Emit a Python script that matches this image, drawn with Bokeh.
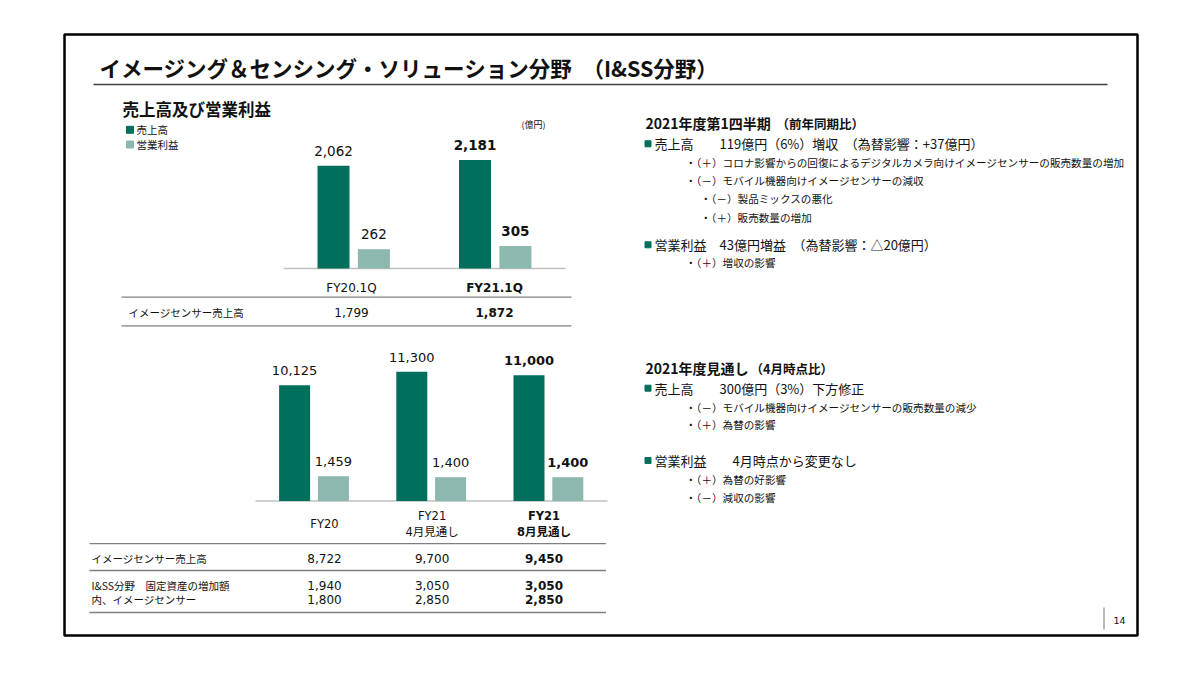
from bokeh.plotting import figure
from bokeh.models import Range1d, ColumnDataSource
from bokeh.core.properties import value, field
from bokeh.transform import dodge
from bokeh.embed import file_html
from bokeh.resources import INLINE

# ---------------- data ----------------
title_text = "イメージング＆センシング・ソリューション分野　（I&SS分野）"
section_title = "売上高及び営業利益"
series_names = ["売上高", "営業利益"]
unit_label = "(億円)"

q_categories = ["FY20.1Q", "FY21.1Q"]
q_sales = [2062, 2181]
q_profit = [262, 305]
q_table_label = "イメージセンサー売上高"
q_sensor = [1799, 1872]

y_categories = ["FY20", "FY21\n4月見通し", "FY21\n8月見通し"]
y_sales = [10125, 11300, 11000]
y_profit = [1459, 1400, 1400]
y_table_labels = ["イメージセンサー売上高", "I&SS分野　固定資産の増加額", "内、イメージセンサー"]
y_sensor = [8722, 9700, 9450]
y_capex = [1940, 3050, 3050]
y_capex_sensor = [1800, 2850, 2850]

q_heading = ["2021年度第1四半期", "（前年同期比）"]
q_notes_level = [1, 2, 2, 3, 3, 1, 2]
q_notes = [
    "売上高　　119億円（6%）増収　（為替影響：+37億円）",
    "・（＋）コロナ影響からの回復によるデジタルカメラ向けイメージセンサーの販売数量の増加",
    "・（－）モバイル機器向けイメージセンサーの減収",
    "・（－）製品ミックスの悪化",
    "・（＋）販売数量の増加",
    "営業利益　43億円増益　（為替影響：△20億円）",
    "・（＋）増収の影響",
]
f_heading = ["2021年度見通し", "（4月時点比）"]
f_notes_level = [1, 2, 2, 1, 2, 2]
f_notes = [
    "売上高　　300億円（3%）下方修正",
    "・（－）モバイル機器向けイメージセンサーの販売数量の減少",
    "・（＋）為替の影響",
    "営業利益　　4月時点から変更なし",
    "・（＋）為替の好影響",
    "・（－）減収の影響",
]
page_number = "14"

# ---------------- style / layout ----------------
DARK = "#00705C"
LIGHT = "#8CB8B0"
INK = "#111111"
JP = value("Noto Sans CJK JP")
NUM = value("DejaVu Sans")
MIX = value("DejaVu Sans, Noto Sans CJK JP")

X0, X1, Y0, Y1 = 0, 1184, 0, 659


def x_map(c0, d):
    return Range1d(start=(X0 - c0) / d, end=(X1 - c0) / d)


def y_map(base, k):
    return Range1d(start=(base - Y1) / k, end=(base - Y0) / k)


p = figure(width=X1 - X0, height=Y1 - Y0, x_range=Range1d(X0, X1), y_range=Range1d(Y1, Y0),
           x_axis_type=None, y_axis_type=None, toolbar_location=None, output_backend="svg",
           min_border=0, outline_line_color=None, background_fill_color="white",
           border_fill_color="white")

# chart geometry
Q_C0, Q_D, Q_OFF, Q_W, Q_BASE, Q_KS, Q_KP = 353.2, 141.5, 20.2, 32, 268, 0.0498, 0.0737
A_C0, A_D, A_OFF, A_W, A_BASE, A_KS, A_KP = 313.5, 117.2, 19.4, 31, 500.5, 0.01143, 0.017
GAP = 14.7

p.extra_x_ranges = {"qx": x_map(Q_C0, Q_D), "ax": x_map(A_C0, A_D)}
p.extra_y_ranges = {"qs": y_map(Q_BASE, Q_KS), "qp": y_map(Q_BASE, Q_KP),
                    "as": y_map(A_BASE, A_KS), "ap": y_map(A_BASE, A_KP)}

# frame & title
p.quad(left=64, right=1137, top=34, bottom=635, fill_color=None, line_color="black", line_width=2.5)
p.segment(x0=93, y0=84, x1=1107, y1=84, line_color="#404040", line_width=1.5)
p.text(x=99, y=67, text=[title_text], text_font=JP, text_font_style="bold",
       text_font_size="21.5px", text_baseline="middle", text_color=INK)
p.text(x=122, y=108, text=[section_title], text_font=JP, text_font_style="bold",
       text_font_size="16.5px", text_baseline="middle", text_color=INK)

# legend
p.scatter(x=[129.5, 129.5], y=[129.3, 144], marker="square", size=7, color=[DARK, LIGHT])
p.text(x=[136, 136], y=[129.3, 144], text=series_names, text_font=JP, text_font_size="10.5px",
       text_baseline="middle", text_color=INK)
p.text(x=521, y=124, text=[unit_label], text_font=JP, text_font_size="9px",
       text_baseline="middle", text_color=INK)


def styles(n):
    return ["normal"] * (n - 1) + ["bold"]


# ---- quarterly chart ----
nq = len(q_categories)
qsrc = ColumnDataSource(dict(
    i=list(range(nq)), sales=q_sales, profit=q_profit,
    sales_lbl=[f"{v:,}" for v in q_sales], profit_lbl=[f"{v:,}" for v in q_profit],
    style=styles(nq)))
p.segment(x0=283, y0=Q_BASE, x1=565, y1=Q_BASE, line_color="#BFBFBF", line_width=1.5)
p.vbar(x=dodge("i", -Q_OFF / Q_D), top="sales", bottom=0, width=Q_W / Q_D, source=qsrc,
       x_range_name="qx", y_range_name="qs", fill_color=DARK, line_color=None)
p.vbar(x=dodge("i", Q_OFF / Q_D), top="profit", bottom=0, width=Q_W / Q_D, source=qsrc,
       x_range_name="qx", y_range_name="qp", fill_color=LIGHT, line_color=None)
p.text(x=dodge("i", -Q_OFF / Q_D), y=dodge("sales", GAP / Q_KS), text="sales_lbl", source=qsrc,
       x_range_name="qx", y_range_name="qs", text_font=NUM, text_font_size="13.5px",
       text_font_style=field("style"), text_align="center", text_baseline="middle", text_color=INK)
p.text(x=dodge("i", Q_OFF / Q_D), y=dodge("profit", GAP / Q_KP), text="profit_lbl", source=qsrc,
       x_range_name="qx", y_range_name="qp", text_font=NUM, text_font_size="13.5px",
       text_font_style=field("style"), text_align="center", text_baseline="middle", text_color=INK)
qcat_src = ColumnDataSource(dict(x=[351, 494], cat=q_categories, sensor=[f"{v:,}" for v in q_sensor],
                                 style=styles(nq)))
p.text(x="x", y=287, text="cat", source=qcat_src, text_font=NUM, text_font_size="12px",
       text_font_style=field("style"), text_align="center", text_baseline="middle", text_color=INK)
p.text(x="x", y=312, text="sensor", source=qcat_src, text_font=NUM, text_font_size="12px",
       text_font_style=field("style"), text_align="center", text_baseline="middle", text_color=INK)
p.segment(x0=[121, 121], y0=[296.7, 325.3], x1=[571, 571], y1=[296.7, 325.3],
          line_color="#7F7F7F", line_width=1.3)
p.text(x=128, y=312, text=[q_table_label], text_font=JP, text_font_size="10.5px",
       text_baseline="middle", text_color=INK)

# ---- annual chart ----
na = len(y_categories)
asrc = ColumnDataSource(dict(
    i=list(range(na)), sales=y_sales, profit=y_profit,
    sales_lbl=[f"{v:,}" for v in y_sales], profit_lbl=[f"{v:,}" for v in y_profit],
    style=styles(na)))
p.segment(x0=255, y0=A_BASE, x1=607, y1=A_BASE, line_color="#BFBFBF", line_width=1.5)
p.vbar(x=dodge("i", -A_OFF / A_D), top="sales", bottom=0, width=A_W / A_D, source=asrc,
       x_range_name="ax", y_range_name="as", fill_color=DARK, line_color=None)
p.vbar(x=dodge("i", A_OFF / A_D), top="profit", bottom=0, width=A_W / A_D, source=asrc,
       x_range_name="ax", y_range_name="ap", fill_color=LIGHT, line_color=None)
p.text(x=dodge("i", -A_OFF / A_D), y=dodge("sales", GAP / A_KS), text="sales_lbl", source=asrc,
       x_range_name="ax", y_range_name="as", text_font=NUM, text_font_size="13px",
       text_font_style=field("style"), text_align="center", text_baseline="middle", text_color=INK)
p.text(x=dodge("i", A_OFF / A_D), y=dodge("profit", GAP / A_KP), text="profit_lbl", source=asrc,
       x_range_name="ax", y_range_name="ap", text_font=NUM, text_font_size="13px",
       text_font_style=field("style"), text_align="center", text_baseline="middle", text_color=INK)

COLS = [324, 431.6, 543.5]
acat_src = ColumnDataSource(dict(
    x=COLS, cat=y_categories, sensor=[f"{v:,}" for v in y_sensor],
    capex=[f"{v:,}" for v in y_capex], capex_s=[f"{v:,}" for v in y_capex_sensor], style=styles(na)))
p.text(x="x", y=523.5, text="cat", source=acat_src, text_font=MIX, text_font_size="11.5px",
       text_font_style=field("style"), text_align="center", text_baseline="middle", text_color=INK)
for col, yy in (("sensor", 557.6), ("capex", 585.2), ("capex_s", 599)):
    p.text(x="x", y=yy, text=col, source=acat_src, text_font=NUM, text_font_size="12px",
           text_font_style=field("style"), text_align="center", text_baseline="middle", text_color=INK)
p.segment(x0=[89, 89, 89], y0=[543.2, 570, 612], x1=[605.5, 605.5, 605.5], y1=[543.2, 570, 612],
          line_color="#7F7F7F", line_width=1.3)
p.text(x=[91, 91, 91], y=[557.6, 585.2, 599], text=y_table_labels, text_font=JP,
       text_font_size="10.5px", text_baseline="middle", text_color=INK)

# ---- commentary ----
LEVEL_X = {1: 654, 2: 685, 3: 700}
LEVEL_SIZE = {1: "13px", 2: "10.6px", 3: "10.6px"}


def notes(heading, heading_y, heading2_x, levels, lines, ys):
    p.text(x=645, y=heading_y, text=[heading[0]], text_font=JP, text_font_style="bold",
           text_font_size="14px", text_baseline="middle", text_color=INK)
    p.text(x=heading2_x, y=heading_y + 0.5, text=[heading[1]], text_font=JP, text_font_style="bold",
           text_font_size="12.5px", text_baseline="middle", text_color=INK)
    for lv in (1, 2, 3):
        idx = [k for k, l in enumerate(levels) if l == lv]
        if not idx:
            continue
        p.text(x=LEVEL_X[lv], y=[ys[k] for k in idx], text=[lines[k] for k in idx], text_font=JP,
               text_font_size=LEVEL_SIZE[lv], text_baseline="middle", text_color=INK)
        if lv == 1:
            p.scatter(x=647.5, y=[ys[k] for k in idx], marker="square", size=6, color=DARK)


notes(q_heading, 122.7, 776, q_notes_level, q_notes, [143.3, 162.3, 180, 198.3, 216.7, 244.3, 261.7])
notes(f_heading, 367.3, 750, f_notes_level, f_notes, [387.7, 406.7, 424, 460, 479, 496.7])

# page number
p.segment(x0=1103.5, y0=607, x1=1103.5, y1=629, line_color="#A0A0A0", line_width=1.5)
p.text(x=1113, y=620, text=[page_number], text_font=NUM, text_font_size="9.5px",
       text_baseline="middle", text_color=INK)

open("out.html", "w").write(file_html(p, INLINE))
